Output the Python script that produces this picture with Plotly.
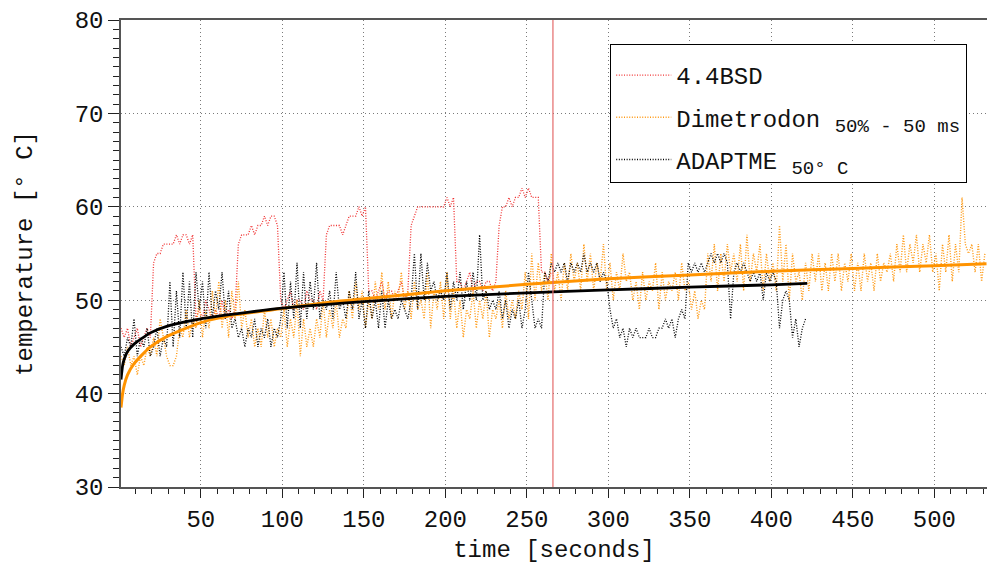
import plotly.graph_objects as go

# --- measured CPU temperature traces (one sample every 2 s) ---
t_bsd = list(range(1, 266, 2))
temp_bsd = [
    47, 46, 47, 45, 46, 47, 45, 46, 47, 46,
    54, 55, 55, 56, 56, 56, 56, 57, 56, 57,
    57, 56, 57, 48, 49, 48, 50, 49, 48, 49,
    48, 50, 48, 49, 48, 49, 56, 57, 57, 57,
    58, 57, 58, 58, 59, 58, 59, 59, 58, 50,
    49, 50, 51, 49, 50, 50, 49, 51, 50, 50,
    49, 51, 50, 57, 58, 58, 58, 58, 57, 58,
    59, 59, 59, 60, 59, 60, 51, 51, 50, 51,
    52, 50, 51, 51, 50, 51, 52, 50, 51, 58,
    59, 60, 60, 60, 60, 60, 60, 60, 60, 60,
    61, 60, 61, 52, 52, 51, 52, 53, 51, 52,
    52, 51, 52, 52, 51, 52, 58, 60, 60, 61,
    60, 61, 61, 62, 61, 62, 61, 61, 61, 53,
    53, 52, 53,
]

t_dim = list(range(1, 532, 2))
temp_dim = [
    44, 43, 45, 43, 44, 42, 44, 43, 45, 44,
    46, 44, 48, 46, 44, 43, 43, 44, 47, 46,
    49, 46, 48, 47, 50, 46, 49, 47, 51, 48,
    52, 47, 50, 46, 51, 48, 52, 47, 49, 46,
    48, 45, 47, 45, 49, 46, 48, 45, 47, 46,
    49, 45, 48, 46, 50, 44, 48, 45, 47, 45,
    48, 46, 50, 46, 49, 47, 50, 46, 48, 47,
    51, 48, 52, 49, 51, 47, 50, 48, 52, 49,
    53, 49, 52, 48, 51, 50, 53, 49, 51, 48,
    52, 49, 50, 48, 53, 47, 51, 49, 52, 48,
    53, 48, 51, 47, 50, 46, 49, 48, 51, 47,
    50, 48, 51, 46, 49, 48, 50, 47, 51, 48,
    50, 48, 51, 49, 53, 48, 55, 50, 54, 51,
    53, 50, 55, 51, 53, 50, 54, 51, 55, 52,
    54, 51, 56, 52, 55, 51, 54, 52, 56, 51,
    54, 50, 53, 51, 55, 52, 53, 50, 52, 49,
    53, 50, 52, 51, 54, 49, 53, 50, 52, 51,
    53, 50, 54, 51, 52, 49, 51, 48, 50, 49,
    55, 52, 56, 51, 55, 52, 56, 53, 55, 52,
    56, 51, 57, 52, 55, 53, 56, 51, 55, 52,
    54, 51, 58, 52, 56, 50, 55, 52, 53, 50,
    54, 51, 55, 52, 55, 51, 54, 51, 55, 52,
    55, 51, 54, 52, 55, 51, 54, 51, 55, 52,
    54, 51, 55, 52, 54, 53, 55, 52, 56, 53,
    57, 53, 56, 54, 57, 53, 56, 54, 57, 53,
    55, 51, 56, 53, 57, 52, 56, 53, 61, 56,
    55, 56, 53, 56, 52, 55,
]

t_ada = list(range(1, 422, 2))
temp_ada = [
    45, 44, 46, 45, 48, 44, 46, 45, 47, 44,
    45, 47, 44, 46, 45, 52, 45, 51, 46, 53,
    47, 52, 46, 53, 49, 52, 47, 53, 48, 51,
    49, 53, 48, 51, 47, 48, 46, 47, 45, 47,
    46, 48, 45, 47, 46, 48, 45, 47, 46, 48,
    53, 47, 52, 48, 54, 47, 53, 48, 52, 49,
    54, 48, 50, 49, 51, 48, 53, 49, 50, 48,
    51, 49, 53, 48, 50, 47, 51, 48, 50, 47,
    51, 47, 50, 48, 49, 48, 50, 49, 48, 50,
    55, 49, 55, 50, 54, 51, 52, 50, 51, 50,
    53, 49, 52, 50, 53, 49, 52, 50, 53, 50,
    57, 50, 51, 49, 50, 49, 51, 48, 50, 47,
    49, 48, 50, 47, 49, 53, 50, 47, 48, 47,
    53, 52, 54, 53, 54, 53, 54, 52, 54, 53,
    54, 53, 55, 53, 54, 53, 54, 52, 53, 52,
    49, 47, 48, 46, 47, 45, 47, 46, 47, 46,
    46, 46, 47, 46, 46, 47, 47, 48, 47, 48,
    46, 48, 49, 48, 54, 53, 54, 53, 54, 53,
    54, 55, 54, 55, 54, 55, 54, 48, 53, 54,
    53, 54, 53, 52, 53, 52, 53, 50, 53, 52,
    53, 52, 47, 50, 51, 50, 46, 48, 45, 47,
    48,
]

# --- fitted trend curves ---
fit_dim_t = [1, 2, 3, 5, 9, 19, 29, 50, 70, 100, 130, 150, 200, 250, 300, 350, 400, 450, 500, 532]
fit_dim_v = [38.5, 40.0, 40.9, 42.0, 43.2, 45.0, 46.1, 47.6, 48.4, 49.1, 49.8, 50.15, 51.0, 51.7,
             52.3, 52.7, 53.1, 53.4, 53.7, 53.9]
fit_ada_t = [1, 2, 3, 5, 9, 19, 29, 50, 70, 100, 150, 200, 266, 300, 350, 400, 422]
fit_ada_v = [41.5, 43.0, 43.7, 44.5, 45.3, 46.5, 47.2, 48.0, 48.5, 49.15, 49.85, 50.4, 50.9,
             51.1, 51.4, 51.65, 51.8]

marker_time = 266

RED = "#f03030"
ORANGE = "#ff9810"
FIT_ORANGE = "#ff9300"
BLACK = "#000000"
MONO = "Liberation Mono, DejaVu Sans Mono, monospace"
DOT = "1px,1.6px"
SUB = "<sub><span style='font-size:19px'>{}</span></sub>"

fig = go.Figure()
fig.add_trace(go.Scatter(x=t_bsd, y=temp_bsd, mode="lines", name="4.4BSD",
                         legendgroup="a",
                         line=dict(color=RED, width=1.3, dash=DOT)))
fig.add_trace(go.Scatter(x=t_dim, y=temp_dim, mode="lines",
                         name="Dimetrodon " + SUB.format("50% - 50 ms"),
                         legendgroup="b",
                         line=dict(color=ORANGE, width=1.4, dash=DOT)))
fig.add_trace(go.Scatter(x=t_ada, y=temp_ada, mode="lines",
                         name="ADAPTME " + SUB.format("50° C"),
                         legendgroup="c",
                         line=dict(color=BLACK, width=1.3, dash=DOT)))
fig.add_trace(go.Scatter(x=fit_dim_t, y=fit_dim_v, mode="lines", showlegend=False,
                         line=dict(color=FIT_ORANGE, width=3, shape="spline", smoothing=0.6)))
fig.add_trace(go.Scatter(x=fit_ada_t, y=fit_ada_v, mode="lines", showlegend=False,
                         line=dict(color=BLACK, width=2.8, shape="spline", smoothing=0.6)))

fig.add_shape(type="line", xref="x", yref="paper", x0=marker_time, x1=marker_time,
              y0=0, y1=1, line=dict(color="#e46a6a", width=1.2))

axis_common = dict(
    showline=True, linecolor="#555555", linewidth=1.5,
    ticks="outside", tickcolor="#222222", tickwidth=1,
    showgrid=True, gridcolor="#7a7a7a", griddash="1px,3px", gridwidth=1,
    zeroline=False, automargin=False,
    tickfont=dict(family=MONO, size=24, color="#111111"),
)

fig.update_layout(
    width=987, height=564,
    margin=dict(l=121, r=0, t=20, b=77, pad=0, autoexpand=False),
    paper_bgcolor="white", plot_bgcolor="white",
    font=dict(family=MONO, size=24, color="#111111"),
    xaxis=dict(
        range=[1, 532.3], tickmode="linear", tick0=0, dtick=50, ticklen=9,
        mirror=True,
        minor=dict(dtick=10, tick0=0, ticklen=5, ticks="outside", tickcolor="#222222", showgrid=False),
        title=dict(text="time [seconds]", font=dict(family=MONO, size=24), standoff=23),
        **axis_common,
    ),
    yaxis=dict(
        range=[30, 80], tickmode="linear", tick0=30, dtick=10, ticklen=11,
        minor=dict(dtick=1, tick0=30, ticklen=6, ticks="outside", tickcolor="#222222", showgrid=False),
        title=dict(text="temperature [° C]", font=dict(family=MONO, size=24), standoff=35),
        **axis_common,
    ),
    legend=dict(
        x=0.5647, y=0.9486, xanchor="left", yanchor="top",
        bgcolor="white", bordercolor="#000000", borderwidth=1.2,
        font=dict(family=MONO, size=24, color="#111111"),
        title=dict(text=" ", font=dict(family=MONO, size=6)),
        itemwidth=55, tracegroupgap=8, traceorder="grouped",
    ),
    showlegend=True,
)

fig.write_html("out.html")
